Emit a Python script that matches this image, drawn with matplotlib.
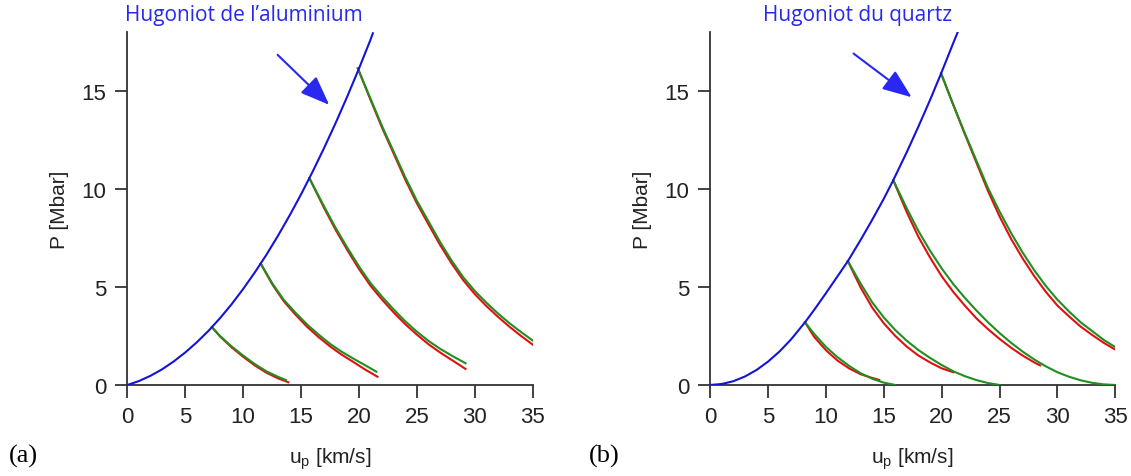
import matplotlib.pyplot as plt

# Hugoniot de l'aluminium (panneau a)
al_up = [0, 1, 2, 3, 4, 5, 6, 7, 8, 9, 10, 11, 12, 13, 14, 15, 16, 17, 18, 19, 20, 21, 21.2]
al_P = [0, 0.20, 0.47, 0.80, 1.20, 1.66, 2.18, 2.76, 3.41, 4.12, 4.90, 5.74, 6.64, 7.61,
        8.64, 9.73, 10.89, 12.11, 13.39, 14.74, 16.15, 17.63, 17.95]

# detentes (vert / rouge) partant de l'Hugoniot, panneau a
al_green = [
    ([7.3, 8, 9, 10, 11, 12, 13, 13.7],
     [2.95, 2.50, 1.97, 1.50, 1.07, 0.70, 0.42, 0.25]),
    ([11.52, 12.5, 13.5, 14.5, 15.5, 16.5, 17.5, 18.5, 19.5, 20.5, 21.5],
     [6.19, 5.20, 4.35, 3.70, 3.10, 2.58, 2.10, 1.70, 1.35, 1.02, 0.68]),
    ([15.72, 17, 18, 19, 20, 21, 22, 23, 24, 25, 26, 27, 28, 29.2],
     [10.55, 9.10, 8.00, 7.00, 6.05, 5.20, 4.50, 3.85, 3.25, 2.72, 2.25, 1.85, 1.50, 1.11]),
    ([19.9, 21, 22, 23, 24, 25, 26, 27, 28, 29, 30, 31, 32, 33, 34, 35],
     [16.16, 14.6, 13.2, 11.9, 10.6, 9.4, 8.35, 7.3, 6.35, 5.5, 4.8, 4.2, 3.65, 3.15, 2.70, 2.27]),
]
al_red = [
    ([7.3, 8, 9, 10, 11, 12, 13, 13.9],
     [2.95, 2.48, 1.92, 1.44, 1.00, 0.63, 0.34, 0.14]),
    ([11.52, 12.5, 13.5, 14.5, 15.5, 16.5, 17.5, 18.5, 19.5, 20.5, 21.6],
     [6.19, 5.15, 4.28, 3.60, 2.98, 2.45, 1.97, 1.55, 1.18, 0.80, 0.42]),
    ([15.72, 17, 18, 19, 20, 21, 22, 23, 24, 25, 26, 27, 28, 29.2],
     [10.55, 9.02, 7.90, 6.88, 5.92, 5.06, 4.35, 3.70, 3.10, 2.57, 2.08, 1.66, 1.28, 0.82]),
    ([19.9, 21, 22, 23, 24, 25, 26, 27, 28, 29, 30, 31, 32, 33, 34, 35],
     [16.16, 14.55, 13.12, 11.8, 10.48, 9.27, 8.2, 7.15, 6.2, 5.35, 4.64, 4.03, 3.48, 2.97, 2.50, 2.06]),
]

# Hugoniot du quartz (panneau b)
qz_up = [0, 1, 2, 3, 4, 5, 6, 7, 8.2, 9, 10, 11, 11.9, 13, 14, 15, 15.82, 17, 18, 19, 19.95, 21, 21.45]
qz_P = [0, 0.05, 0.19, 0.43, 0.76, 1.19, 1.71, 2.33, 3.20, 3.84, 4.68, 5.54, 6.32, 7.40,
        8.43, 9.50, 10.45, 11.90, 13.20, 14.55, 15.90, 17.45, 18.1]

qz_green = [
    ([8.2, 9, 10, 11, 12, 13, 14, 15, 16],
     [3.2, 2.6, 1.95, 1.42, 0.98, 0.60, 0.32, 0.12, 0.0]),
    ([11.9, 13, 14, 15, 16, 17, 18, 19, 20, 21, 22, 23, 24, 25],
     [6.32, 5.18, 4.22, 3.45, 2.80, 2.25, 1.78, 1.38, 1.02, 0.70, 0.45, 0.25, 0.10, 0.0]),
    ([15.82, 17, 18, 19, 20, 21, 22, 23, 24, 25, 26, 27, 28, 29, 30, 31, 32, 33, 34, 35],
     [10.45, 9.0, 7.85, 6.85, 5.95, 5.15, 4.45, 3.80, 3.20, 2.65, 2.15, 1.70, 1.30, 0.95,
      0.65, 0.42, 0.24, 0.11, 0.03, 0.0]),
    ([19.95, 21, 22, 23, 24, 25, 26, 27, 28, 29, 30, 31, 32, 33, 34, 35],
     [15.9, 14.3, 12.85, 11.45, 10.05, 8.85, 7.75, 6.75, 5.85, 5.05, 4.35, 3.75, 3.20, 2.75, 2.30, 1.93]),
]
qz_red = [
    ([8.2, 9, 10, 11, 12, 13, 14, 14.6],
     [3.2, 2.45, 1.78, 1.25, 0.85, 0.55, 0.36, 0.26]),
    ([11.9, 13, 14, 15, 16, 17, 18, 19, 20, 21],
     [6.32, 4.98, 3.95, 3.15, 2.50, 1.95, 1.50, 1.15, 0.85, 0.65]),
    ([15.82, 17, 18, 19, 20, 21, 22, 23, 24, 25, 26, 27, 28, 28.5],
     [10.45, 8.8, 7.55, 6.5, 5.55, 4.75, 4.05, 3.40, 2.85, 2.35, 1.90, 1.50, 1.15, 1.0]),
    ([19.95, 21, 22, 23, 24, 25, 26, 27, 28, 29, 30, 31, 32, 33, 34, 35],
     [15.9, 14.3, 12.8, 11.35, 9.9, 8.6, 7.45, 6.45, 5.55, 4.75, 4.05, 3.50, 2.98, 2.55, 2.15, 1.80]),
]

x_ticks = [0, 5, 10, 15, 20, 25, 30, 35]
y_ticks = [0, 5, 10, 15]

BLUE = '#1414d8'
GREEN = '#1f8f1f'
RED = '#e01010'
TXT_BLUE = '#2828f0'

plt.rcParams['font.family'] = ['Liberation Sans', 'DejaVu Sans']

fig = plt.figure(figsize=(11.31, 4.77), dpi=100)
ax_a = fig.add_axes([0.1126, 0.1908, 0.3584, 0.7394])
ax_b = fig.add_axes([0.6278, 0.1908, 0.3584, 0.7394])

panels = [
    (ax_a, al_up, al_P, al_green, al_red, "Hugoniot de l\u2019aluminium", -0.005, (12.8, 16.95), (17.6, 14.2), '(a)'),
    (ax_b, qz_up, qz_P, qz_green, qz_red, "Hugoniot du quartz", 0.13, (12.2, 17.0), (17.6, 14.6), '(b)'),
]

for ax, up, P, greens, reds, title, title_x, arr_from, arr_to, tag in panels:
    for x, y in reds:
        ax.plot(x, y, color=RED, lw=1.5, zorder=2)
    for x, y in greens:
        ax.plot(x, y, color=GREEN, lw=1.5, zorder=3)
    ax.plot(up, P, color=BLUE, lw=1.5, zorder=4)

    ax.set_xlim(0, 35)
    ax.set_ylim(0, 18)
    ax.set_xticks(x_ticks)
    ax.set_yticks(y_ticks)
    for s in ['top', 'right']:
        ax.spines[s].set_visible(False)
    for s in ['left', 'bottom']:
        ax.spines[s].set_color('#333333')
        ax.spines[s].set_linewidth(1.3)
    ax.tick_params(direction='out', length=9, width=1.3, color='#333333',
                   labelsize=16, labelcolor='#222222', pad=6)
    ax.set_xlabel('u$_\\mathregular{p}$ [km/s]', fontsize=15, color='#222222', labelpad=13)
    ax.set_ylabel('P [Mbar]', fontsize=15, color='#222222', labelpad=9)

    ax.annotate('', xy=arr_to, xytext=arr_from,
                arrowprops=dict(arrowstyle='-|>,head_length=0.9,head_width=0.35',
                                color=TXT_BLUE, lw=1.5, mutation_scale=20))
    ax.text(title_x, 1.05, title, transform=ax.transAxes, color=TXT_BLUE, fontsize=15,
            family=['Open Sans', 'DejaVu Sans'], va='center', ha='left')

fig.text(0.008, 0.03, '(a)', fontsize=19, family=['Liberation Serif'])
fig.text(0.521, 0.03, '(b)', fontsize=19, family=['Liberation Serif'])

fig.savefig('out.png', dpi=100)
